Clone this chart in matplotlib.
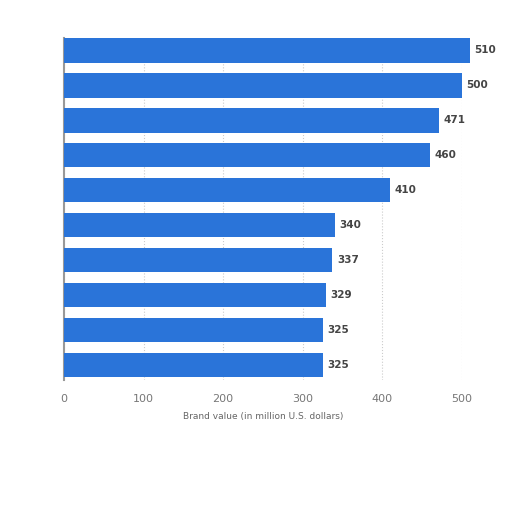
import matplotlib
matplotlib.use('Agg')
import matplotlib.pyplot as plt

# brand values, top to bottom
values = [510, 500, 471, 460, 410, 340, 337, 329, 325, 325]
xticks = [0, 100, 200, 300, 400, 500]
xlabel = 'Brand value (in million U.S. dollars)'

fig = plt.figure(figsize=(5.12, 5.12), dpi=100)
ax = fig.add_axes([0.125, 0.258, 0.777, 0.668])

pos = list(range(len(values)))
ax.barh(pos, values, height=0.7, color='#2a74d9', clip_on=False, zorder=3)

for p, v in zip(pos, values):
    ax.text(v + 6, p, str(v), va='center', ha='left', fontsize=7.5,
            fontweight='bold', color='#444444')

ax.set_xlim(0, 500)
ax.set_ylim(9.43, -0.36)
ax.set_xticks(xticks)
ax.set_xticklabels([str(t) for t in xticks], color='#777777', fontsize=8)
ax.set_yticks([])
ax.tick_params(axis='x', length=0, pad=10)
ax.set_xlabel(xlabel, fontsize=6.5, color='#666666', labelpad=6)

ax.grid(axis='x', linestyle=':', color='#cccccc', linewidth=0.8, zorder=0)
for s in ['top', 'right', 'bottom']:
    ax.spines[s].set_visible(False)
ax.spines['left'].set_color('#999999')
ax.spines['left'].set_linewidth(1.5)

plt.savefig('out.png', dpi=100)
